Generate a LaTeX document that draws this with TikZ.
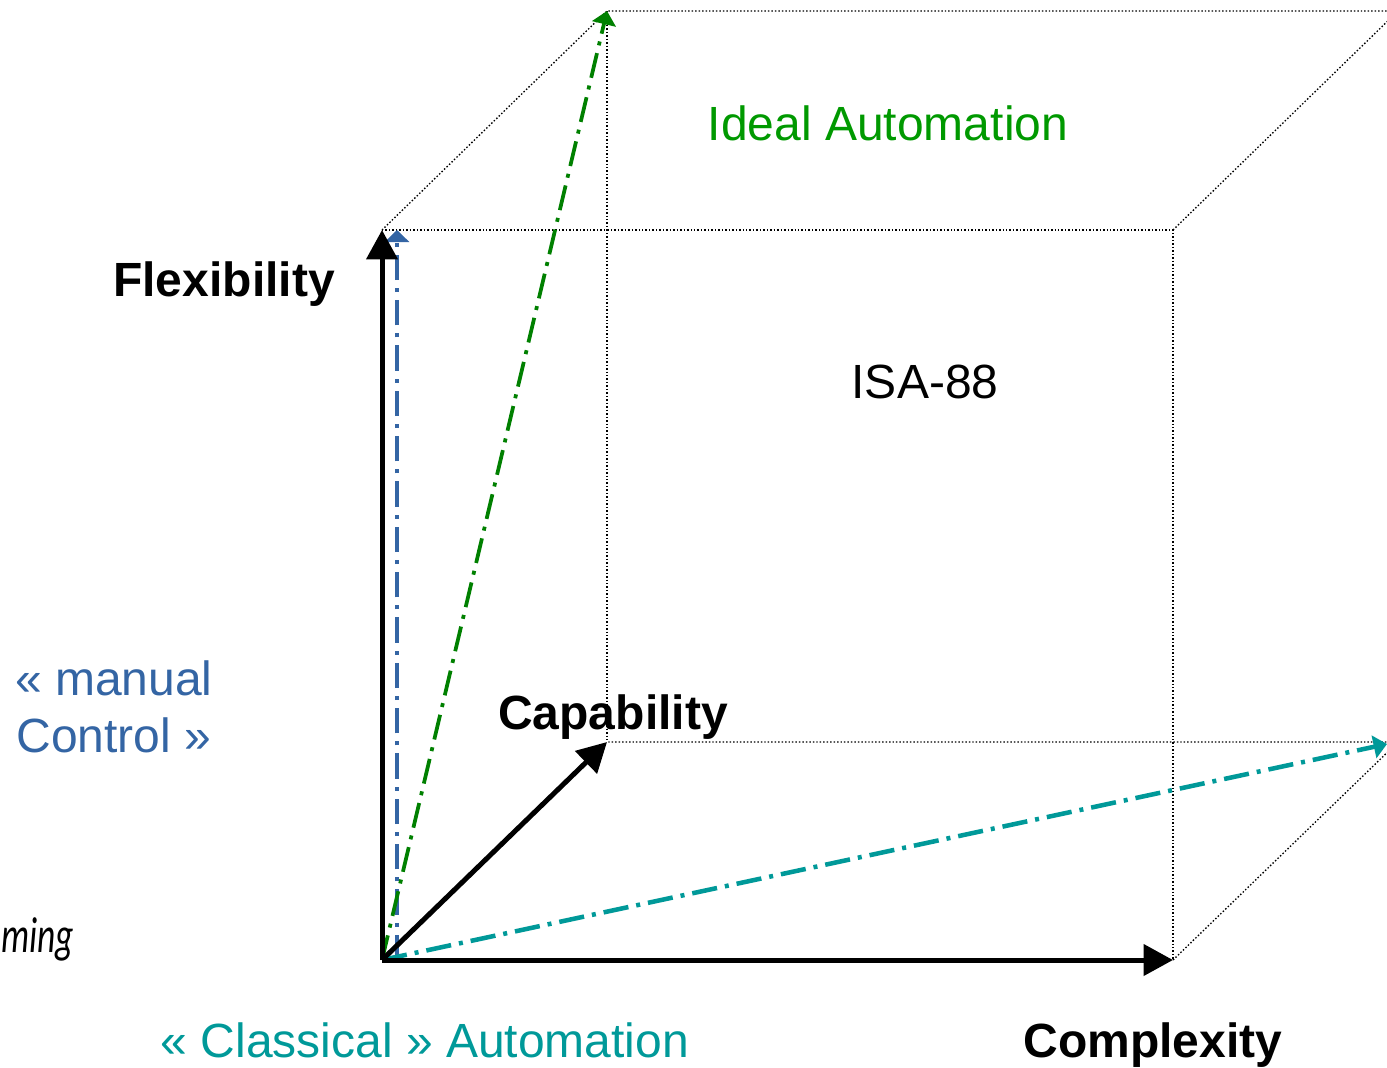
\documentclass[tikz,border=0pt]{standalone}
\usepackage{fontspec}
\usepackage{graphicx}
\setmainfont{Liberation Sans}
\newfontfamily\slopefont{Carlito}
\usetikzlibrary{arrows.meta}
\usetikzlibrary{positioning}
\usetikzlibrary{calc}

\definecolor{manblue}{RGB}{52,101,164}
\definecolor{idealgreen}{RGB}{0,153,0}
\definecolor{idealline}{RGB}{0,128,0}
\definecolor{classteal}{RGB}{0,153,153}

\tikzset{
  axis/.style={line width=3.75pt, -{Triangle[length=22pt,width=23pt]}},
  cubeedge/.style={line width=1pt, dash pattern={on 1.1pt off 1.5pt}},
  dashdot/.style={line width=2.8pt, dash pattern={on 19pt off 6pt on 3pt off 6pt}},
  biglabel/.style={font=\fontsize{36}{43}\selectfont, anchor=base},
}

\begin{document}
\begin{tikzpicture}[x=0.75pt,y=0.75pt,yscale=-1,xscale=1]

\useasboundingbox (0,0) rectangle (1387,1067);
\clip (0,0) rectangle (1387,1067);

\coordinate (O)  at (382,960);
\coordinate (F)  at (382,230);
\coordinate (C)  at (1173,960);
\coordinate (P)  at (607,742);
\coordinate (FC) at (1173,230);
\coordinate (B1) at (607,11);
\coordinate (B2) at (1398,11);
\coordinate (B3) at (1398,742);
\coordinate (BO) at (397,960);
\coordinate (BF) at (397,230);
\coordinate (T)  at (1387,744);

% Cube Edges
\draw   [cubeedge] (F) -- (FC) -- (C) ;
\draw   [cubeedge] (F) -- (B1) -- (B2) -- (B3) -- (P) ;
\draw   [cubeedge] (B1) -- (P) ;
\draw   [cubeedge] (FC) -- (B2) ;
\draw   [cubeedge] (C) -- (B3) ;

% Dash Dot Vectors
\draw   [dashdot, manblue, -{Triangle[length=9pt,width=18pt]}]    (BO) -- (BF) ;
\draw   [dashdot, idealline, -{Triangle[length=10pt,width=18pt]}] (O) -- (B1) ;
\draw   [dashdot, classteal, line width=3.4pt, -{Triangle[length=10pt,width=17pt]}] (O) -- (T) ;

% Axes
\draw   [axis] (O) -- (F) ;
\draw   [axis] (O) -- (C) ;
\draw   [axis] (O) -- (P) ;

% Axis Labels
\node (flex)  [biglabel, font=\fontsize{36}{43}\selectfont\bfseries] at (224,296)  {Flexibility};
\node (capa)  [biglabel, font=\fontsize{36}{43}\selectfont\bfseries] at (613,729)  {Capability};
\node (compl) [biglabel, font=\fontsize{36}{43}\selectfont\bfseries] at (1153,1057) {Complexity};

% Region Labels
\node (ideal) [biglabel, idealgreen] at (888,140) {Ideal Automation};
\node (isa)   [biglabel]             at (925,398) {ISA-88};
\node (manual)[biglabel, manblue, align=center, anchor=north] at (114,656) {« manual\\Control »};
\node (class) [biglabel, classteal]  at (425,1057) {« Classical » Automation};
\node (ming)  [anchor=base west, inner sep=0pt, font=\fontsize{38}{40}\selectfont\slopefont\itshape] at (1,952) {\scalebox{0.7}[1]{ming}};

\end{tikzpicture}
\end{document}
